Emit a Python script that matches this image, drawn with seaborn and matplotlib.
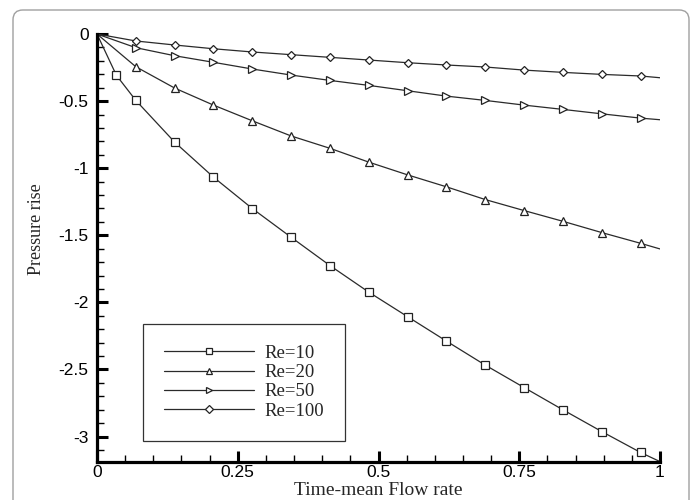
import numpy as np
import pandas as pd
import matplotlib
matplotlib.use("Agg")
import matplotlib.pyplot as plt
from matplotlib.lines import Line2D
from matplotlib.patches import FancyBboxPatch
import seaborn as sns

# ---- data ----
x_re10 = [0.0, 1/29] + [2*k/29 for k in range(1, 15)] + [1.0]
y_re10 = [0.0, -0.308, -0.495, -0.806, -1.067, -1.301, -1.515, -1.726, -1.924,
          -2.107, -2.289, -2.468, -2.635, -2.801, -2.963, -3.119, -3.187]

x_common = [0.0] + [2*k/29 for k in range(1, 15)] + [1.0]
y_re20 = [0.0, -0.244, -0.403, -0.530, -0.647, -0.760, -0.852, -0.955, -1.050,
          -1.139, -1.234, -1.316, -1.396, -1.480, -1.560, -1.602]
y_re50 = [0.0, -0.102, -0.162, -0.211, -0.261, -0.306, -0.346, -0.383, -0.423,
          -0.463, -0.495, -0.530, -0.562, -0.595, -0.627, -0.639]
y_re100 = [0.0, -0.052, -0.082, -0.110, -0.134, -0.154, -0.174, -0.194, -0.214,
           -0.231, -0.246, -0.269, -0.286, -0.301, -0.313, -0.326]

labels = ["Re=10", "Re=20", "Re=50", "Re=100"]
markers = ["s", "^", ">", "D"]
msizes = [5.5, 5.5, 5.5, 4.5]

xticks = [0, 0.25, 0.5, 0.75, 1]
xticklabels = ["0", "0.25", "0.5", "0.75", "1"]
yticks = [0, -0.5, -1, -1.5, -2, -2.5, -3]
yticklabels = ["0", "-0.5", "-1", "-1.5", "-2", "-2.5", "-3"]

sns.set_theme(style="white")
plt.rcParams["font.family"] = ["Liberation Sans", "DejaVu Sans"]

fig = plt.figure(figsize=(6.97, 5.0), dpi=100)
ax = fig.add_axes([97/697, 1-462/500, (660-97)/697, (462-34)/500])

series = [(x_re10, y_re10), (x_common, y_re20), (x_common, y_re50), (x_common, y_re100)]
line_color = "#2a2a2a"
handles = []
for (xs, ys), lab, mk, ms in zip(series, labels, markers, msizes):
    df = pd.DataFrame({"x": xs, "y": ys})
    idx = list(range(1, len(xs) - 1))
    sns.lineplot(data=df, x="x", y="y", ax=ax, color=line_color, linewidth=0.9,
                 marker=mk, markersize=ms, markerfacecolor="white",
                 markeredgecolor="#222222", markeredgewidth=0.9,
                 markevery=idx, sort=False, legend=False)
    handles.append(Line2D([0], [0], color=line_color, linewidth=0.9, marker=mk,
                          markersize=ms - 0.5, markerfacecolor="white",
                          markeredgecolor="#222222", markeredgewidth=0.9))

ax.set_xlim(0, 1)
ax.set_ylim(-3.19, 0)
ax.set_xticks(xticks)
ax.set_xticklabels(xticklabels)
ax.set_yticks(yticks)
ax.set_yticklabels(yticklabels)
ax.set_xticks(np.arange(0, 1.0001, 0.05), minor=True)
ax.set_yticks(np.arange(-3.1, 0.0001, 0.1), minor=True)

for side in ["top", "right"]:
    ax.spines[side].set_visible(False)
for side in ["left", "bottom"]:
    ax.spines[side].set_color("black")
    ax.spines[side].set_linewidth(2.3)

ax.tick_params(which="major", direction="in", length=8, width=2.2, color="black",
               labelsize=12.5, labelcolor="black")
ax.tick_params(which="minor", direction="in", length=5, width=1.0, color="black")
ax.tick_params(axis="y", which="major", pad=6)
ax.tick_params(axis="x", which="major", pad=2.5)
ax.tick_params(left=True, bottom=True, which="both")

ax.set_xlabel("Time-mean Flow rate", fontsize=14, family=["Liberation Serif"])
ax.xaxis.set_label_coords(0.5, -(499 - 462) / 428)
ax.xaxis.label.set_verticalalignment("bottom")
ax.set_ylabel("Pressure rise", fontsize=13, family=["Liberation Serif"])
ax.yaxis.set_label_coords(-0.092, 0.544)

leg = ax.legend(handles, labels, loc="upper left",
                bbox_to_anchor=(143/697, 1-324/500), bbox_transform=fig.transFigure,
                borderaxespad=0, frameon=True, fancybox=False, shadow=False,
                handlelength=4.8, handletextpad=0.6, labelspacing=0.12,
                borderpad=1.1, prop={"family": "Liberation Serif", "size": 13.5})
leg.get_frame().set_edgecolor("black")
leg.get_frame().set_linewidth(0.9)
leg.get_frame().set_facecolor("white")

border = FancyBboxPatch((13/697, -0.05), (689-13)/697, 1.05 - 10/500,
                        boxstyle="round,pad=0,rounding_size=0.014",
                        mutation_aspect=697/500,
                        transform=fig.transFigure, facecolor="none",
                        edgecolor="#a0a0a0", linewidth=1.0, zorder=-1)
fig.patches.append(border)

fig.savefig("out.png", dpi=100)
